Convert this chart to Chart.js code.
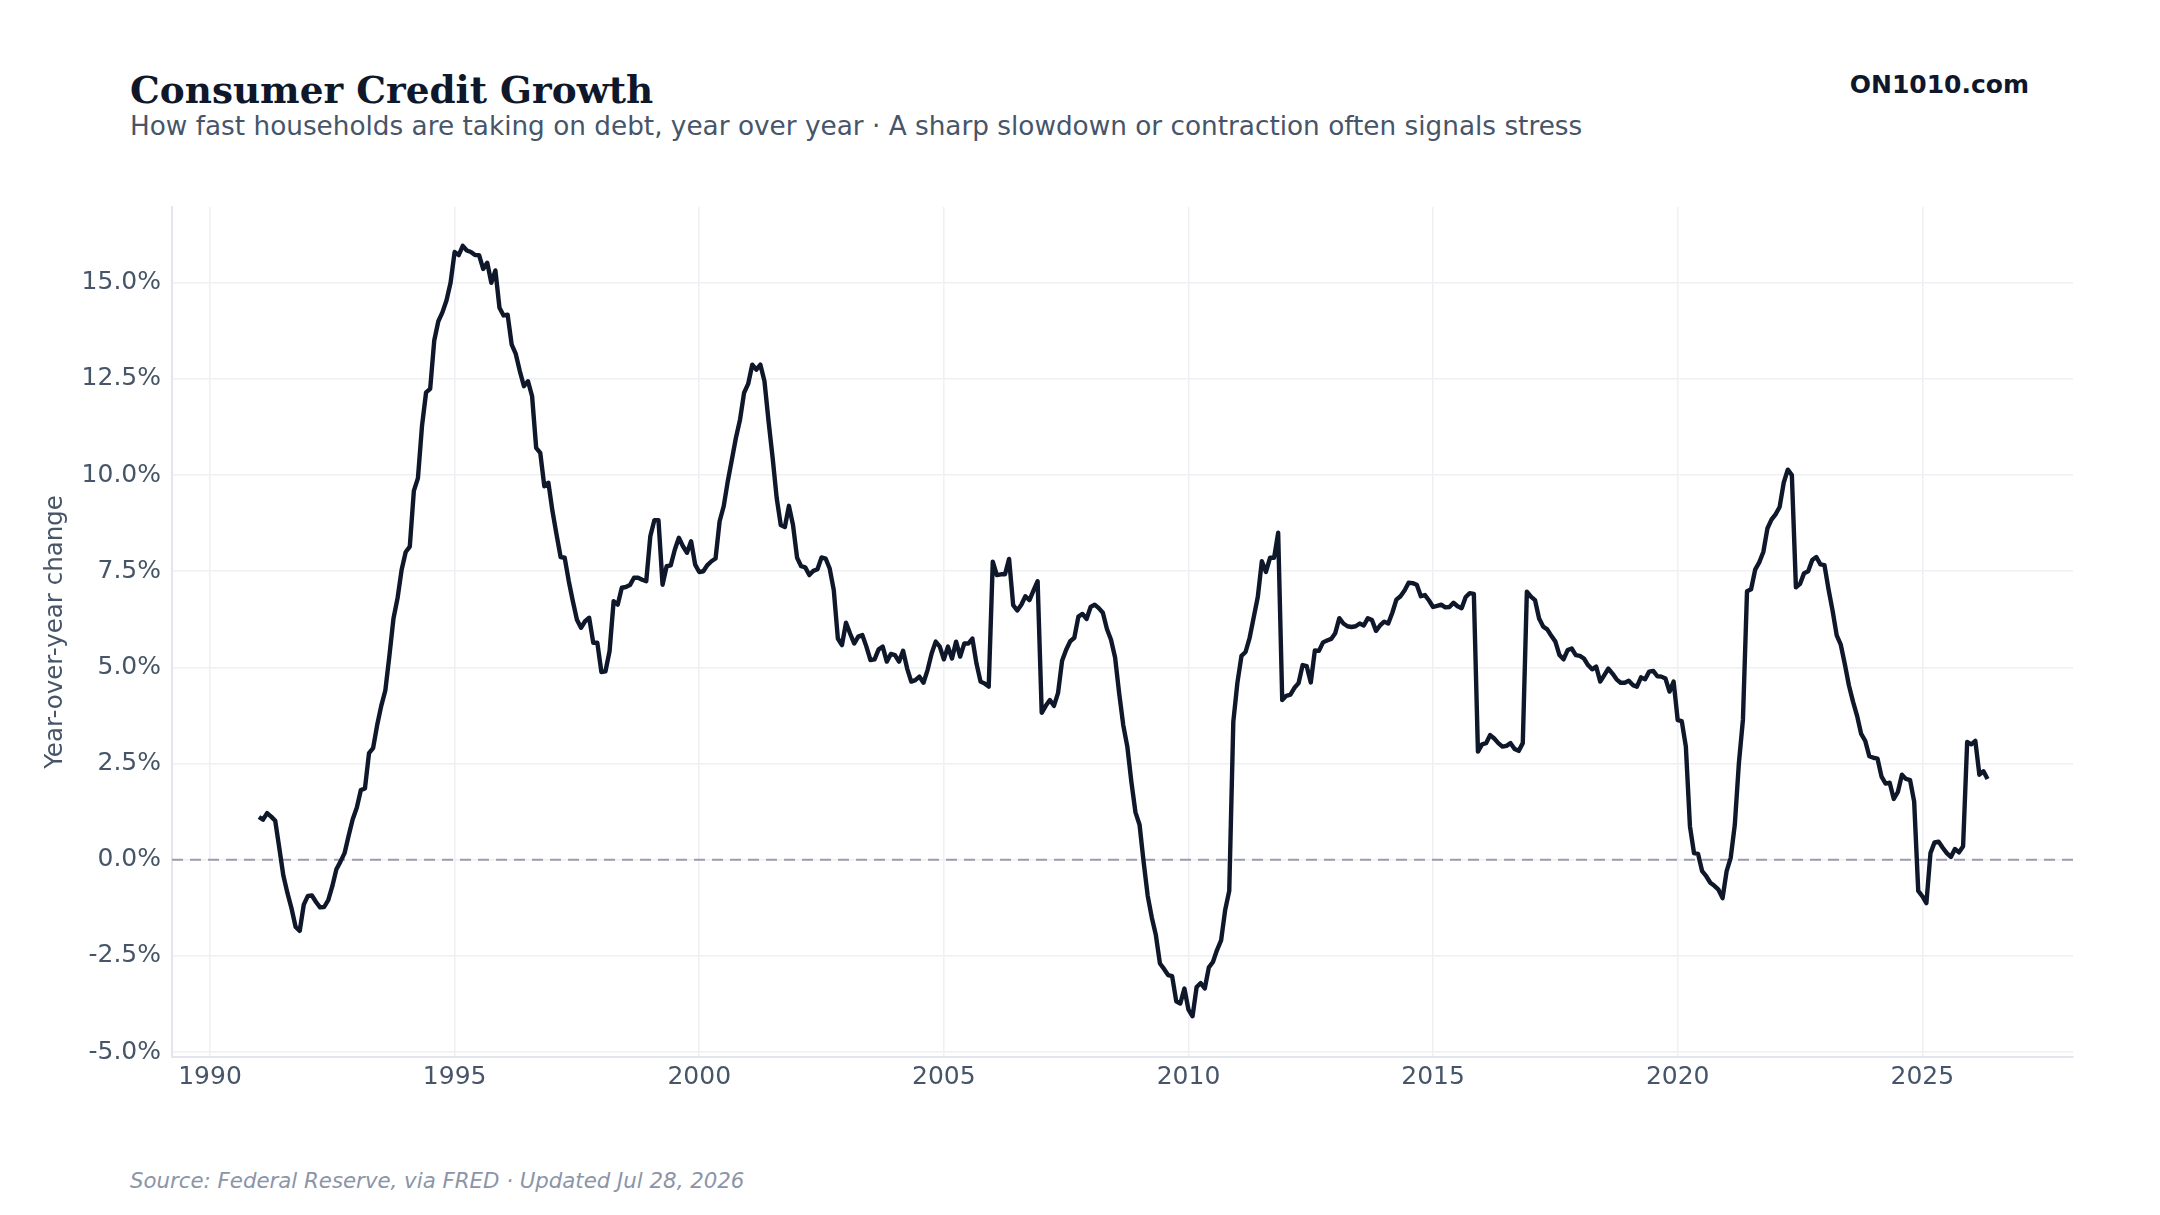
<!DOCTYPE html>
<html>
<head>
<meta charset="utf-8">
<script src="https://cdn.jsdelivr.net/npm/chart.js@4.4.1/dist/chart.umd.min.js"></script>
<style>
  html, body { margin: 0; padding: 0; background: #ffffff; }
  body { width: 2160px; height: 1215px; position: relative; overflow: hidden; font-family: "DejaVu Sans", sans-serif; }
  .txt { position: absolute; line-height: 1; white-space: nowrap; }
  #title { left: 130px; top: 71.5px; font-family: "DejaVu Serif", serif; font-weight: bold; font-size: 37.4px; color: #0f172a; }
  #subtitle { left: 130px; top: 113px; font-size: 26.3px; color: #475569; }
  #brand { right: 131px; top: 71.5px; font-size: 25px; font-weight: bold; color: #0f172a; }
  #footer { left: 130px; top: 1170px; font-size: 21.3px; font-style: italic; color: #8b95a8; }
  #chart { position: absolute; left: 0; top: 0; }
</style>
</head>
<body>
<div id="title" class="txt">Consumer Credit Growth</div>
<div id="subtitle" class="txt">How fast households are taking on debt, year over year · A sharp slowdown or contraction often signals stress</div>
<div id="brand" class="txt">ON1010.com</div>
<div id="footer" class="txt">Source: Federal Reserve, via FRED · Updated Jul 28, 2026</div>
<canvas id="chart" width="2160" height="1215"></canvas>
<script>
// ---- Data (monthly, year-over-year % change, first month = Jan 1991) ----
const firstYear = 1991;
const yoyGrowth = [
  // 1991
  1.11, 1.04, 1.21, 1.12, 1.01, 0.30, -0.42, -0.87, -1.27, -1.75, -1.85, -1.17,
  // 1992
  -0.94, -0.93, -1.10, -1.24, -1.23, -1.05, -0.69, -0.25, -0.05, 0.17, 0.62, 1.05,
  // 1993
  1.35, 1.81, 1.85, 2.77, 2.90, 3.50, 4.00, 4.40, 5.30, 6.27, 6.80, 7.54,
  // 1994
  8.00, 8.14, 9.59, 9.92, 11.28, 12.15, 12.24, 13.50, 14.00, 14.23, 14.54, 15.00,
  // 1995
  15.80, 15.72, 15.96, 15.84, 15.80, 15.72, 15.72, 15.36, 15.52, 15.00, 15.32, 14.35,
  // 1996
  14.15, 14.17, 13.39, 13.15, 12.70, 12.31, 12.44, 12.05, 10.71, 10.58, 9.71, 9.80,
  // 1997
  9.06, 8.45, 7.87, 7.85, 7.24, 6.72, 6.24, 6.03, 6.20, 6.29, 5.64, 5.64,
  // 1998
  4.88, 4.90, 5.42, 6.72, 6.63, 7.07, 7.09, 7.14, 7.33, 7.33, 7.28, 7.24,
  // 1999
  8.41, 8.83, 8.83, 7.15, 7.63, 7.65, 8.06, 8.37, 8.15, 7.98, 8.28, 7.67,
  // 2000
  7.48, 7.50, 7.66, 7.76, 7.83, 8.80, 9.19, 9.84, 10.40, 10.97, 11.44, 12.14,
  // 2001
  12.37, 12.87, 12.74, 12.87, 12.44, 11.40, 10.45, 9.40, 8.70, 8.65, 9.20, 8.70,
  // 2002
  7.85, 7.63, 7.60, 7.40, 7.51, 7.55, 7.86, 7.83, 7.57, 7.01, 5.75, 5.58,
  // 2003
  6.16, 5.88, 5.62, 5.80, 5.84, 5.54, 5.19, 5.21, 5.47, 5.54, 5.15, 5.35,
  // 2004
  5.32, 5.15, 5.43, 4.97, 4.63, 4.67, 4.76, 4.60, 4.93, 5.36, 5.67, 5.54,
  // 2005
  5.21, 5.54, 5.23, 5.67, 5.28, 5.62, 5.62, 5.75, 5.10, 4.63, 4.58, 4.50,
  // 2006
  7.75, 7.40, 7.42, 7.42, 7.82, 6.62, 6.48, 6.63, 6.85, 6.75, 7.00, 7.24,
  // 2007
  3.82, 4.00, 4.15, 4.00, 4.33, 5.17, 5.46, 5.68, 5.77, 6.32, 6.39, 6.26,
  // 2008
  6.57, 6.63, 6.54, 6.42, 6.00, 5.72, 5.26, 4.33, 3.50, 2.94, 2.02, 1.23,
  // 2009
  0.91, -0.06, -0.94, -1.50, -1.96, -2.70, -2.84, -3.00, -3.03, -3.68, -3.74, -3.35,
  // 2010
  -3.90, -4.07, -3.31, -3.21, -3.35, -2.80, -2.66, -2.35, -2.10, -1.31, -0.81, 3.59,
  // 2011
  4.60, 5.30, 5.40, 5.77, 6.30, 6.83, 7.76, 7.48, 7.85, 7.85, 8.50, 4.15,
  // 2012
  4.26, 4.29, 4.47, 4.59, 5.06, 5.03, 4.61, 5.44, 5.43, 5.65, 5.70, 5.74,
  // 2013
  5.89, 6.28, 6.14, 6.07, 6.05, 6.07, 6.14, 6.09, 6.28, 6.23, 5.95, 6.09,
  // 2014
  6.19, 6.14, 6.42, 6.76, 6.85, 7.00, 7.20, 7.19, 7.15, 6.85, 6.88, 6.74,
  // 2015
  6.57, 6.60, 6.63, 6.56, 6.57, 6.68, 6.59, 6.54, 6.83, 6.93, 6.91, 2.81,
  // 2016
  3.00, 3.03, 3.24, 3.15, 3.03, 2.94, 2.96, 3.03, 2.88, 2.83, 3.03, 6.97,
  // 2017
  6.84, 6.75, 6.27, 6.06, 5.99, 5.82, 5.67, 5.32, 5.21, 5.45, 5.49, 5.32,
  // 2018
  5.30, 5.23, 5.06, 4.95, 5.02, 4.63, 4.80, 4.97, 4.84, 4.69, 4.60, 4.60,
  // 2019
  4.65, 4.54, 4.50, 4.74, 4.69, 4.89, 4.91, 4.77, 4.76, 4.71, 4.37, 4.63,
  // 2020
  3.63, 3.60, 2.94, 0.87, 0.17, 0.15, -0.30, -0.43, -0.60, -0.68, -0.78, -1.00,
  // 2021
  -0.30, 0.05, 0.90, 2.50, 3.64, 6.98, 7.03, 7.54, 7.73, 8.00, 8.61, 8.84,
  // 2022
  8.98, 9.17, 9.80, 10.14, 10.00, 7.08, 7.17, 7.45, 7.50, 7.79, 7.87, 7.68,
  // 2023
  7.66, 7.03, 6.47, 5.83, 5.59, 5.08, 4.53, 4.11, 3.74, 3.27, 3.09, 2.69,
  // 2024
  2.65, 2.63, 2.16, 1.98, 2.00, 1.58, 1.76, 2.21, 2.10, 2.07, 1.51, -0.81,
  // 2025
  -0.95, -1.13, 0.17, 0.45, 0.47, 0.31, 0.17, 0.07, 0.28, 0.19, 0.35, 3.06,
  // 2026
  3.00, 3.09, 2.21, 2.30, 2.10
];
const xTickYears = [1990, 1995, 2000, 2005, 2010, 2015, 2020, 2025];
const yTickValues = [-5, -2.5, 0, 2.5, 5, 7.5, 10, 12.5, 15];
const referenceLevel = 0;

// axis ranges
const X_MIN = 1989.223, X_MAX = 2028.08;
const Y_MIN = -5.13, Y_MAX = 16.97;

const seriesPoints = yoyGrowth.map((v, i) => ({ x: firstYear + i / 12, y: v }));
const zeroPoints = [{ x: X_MIN, y: referenceLevel }, { x: X_MAX, y: referenceLevel }];

Chart.defaults.font.family = '"DejaVu Sans", sans-serif';

new Chart(document.getElementById('chart'), {
  type: 'line',
  data: {
    datasets: [
      {
        label: 'YoY',
        data: seriesPoints,
        borderColor: '#0f172a',
        borderWidth: 4.4,
        pointRadius: 0,
        tension: 0,
        borderJoinStyle: 'round',
        borderCapStyle: 'butt',
        fill: false,
        order: 0
      },
      {
        label: 'zero',
        data: zeroPoints,
        borderColor: '#9a9cb4',
        borderWidth: 2,
        borderDash: [11, 7],
        pointRadius: 0,
        fill: false,
        order: 1
      }
    ]
  },
  options: {
    responsive: false,
    animation: false,
    devicePixelRatio: 1,
    layout: { padding: { top: 207, right: 87, left: 0, bottom: 0 } },
    plugins: { legend: { display: false }, tooltip: { enabled: false } },
    scales: {
      x: {
        type: 'linear',
        min: X_MIN,
        max: X_MAX,
        afterBuildTicks: (s) => { s.ticks = xTickYears.map(v => ({ value: v })); },
        afterFit: (s) => { s.height = 158; },
        ticks: {
          autoSkip: false,
          maxRotation: 0,
          padding: 5,
          color: '#475569',
          font: { size: 25 },
          callback: (v) => String(v)
        },
        grid: { color: '#eef0f4', lineWidth: 1.5, drawTicks: false },
        border: { display: true, color: '#e2e5ec', width: 2 }
      },
      y: {
        type: 'linear',
        min: Y_MIN,
        max: Y_MAX,
        afterBuildTicks: (s) => { s.ticks = yTickValues.map(v => ({ value: v })); },
        afterFit: (s) => { s.width = 172; },
        ticks: {
          autoSkip: false,
          padding: 11,
          color: '#475569',
          font: { size: 25 },
          callback: (v) => Number(v).toFixed(1) + '%'
        },
        grid: { color: '#eef0f4', lineWidth: 1.5, drawTicks: false },
        border: { display: true, color: '#e2e5ec', width: 2 },
        title: {
          display: true,
          text: 'Year-over-year change',
          color: '#475569',
          font: { size: 24.5, lineHeight: 1.2 },
          padding: { top: 41, bottom: 0 }
        }
      }
    }
  }
});
</script>
</body>
</html>
